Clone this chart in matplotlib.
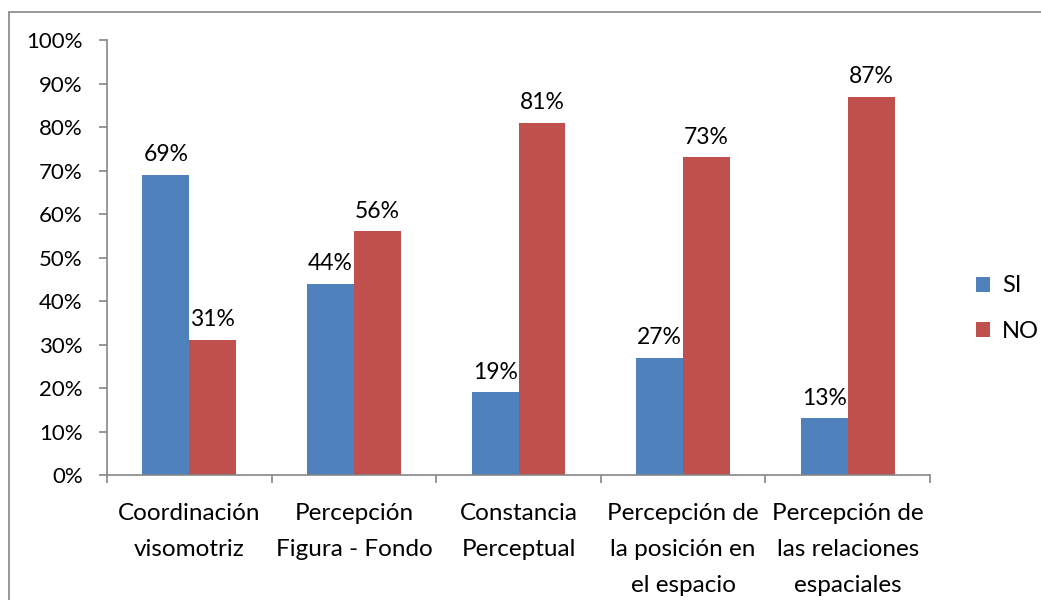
import matplotlib.pyplot as plt
import matplotlib.patches as patches
import numpy as np

categories = ["Coordinación\nvisomotriz", "Percepción\nFigura - Fondo", "Constancia\nPerceptual",
              "Percepción de\nla posición en\nel espacio", "Percepción de\nlas relaciones\nespaciales"]
si = [69, 44, 19, 27, 13]
no = [31, 56, 81, 73, 87]
series = ["SI", "NO"]

plt.rcParams['font.family'] = ['Lato', 'DejaVu Sans']

fig = plt.figure(figsize=(10.41, 6.0), dpi=100)
ax = fig.add_axes([0.1028, 0.2083, 0.7906, 0.725])

x = np.arange(len(categories))
w = 0.285
b1 = ax.bar(x - w / 2, si, w, color="#4F81BD", label=series[0])
b2 = ax.bar(x + w / 2, no, w, color="#C0504D", label=series[1])

for bars, vals in ((b1, si), (b2, no)):
    for r, v in zip(bars, vals):
        ax.annotate(f"{v}%", (r.get_x() + r.get_width() / 2, v), xytext=(0, 7),
                    textcoords="offset points", ha="center", va="bottom", fontsize=16.5)

ax.set_xlim(-0.5, len(categories) - 0.5)
ax.set_ylim(0, 100)
ax.set_yticks(range(0, 101, 10))
ax.set_yticklabels([f"{t}%" for t in range(0, 101, 10)], fontsize=16)
ax.set_xticks(x)
ax.set_xticklabels(categories, fontsize=17.5, linespacing=1.9)
ax.set_xticks(np.arange(-0.5, len(categories)), minor=True)
ax.tick_params(axis="x", which="major", length=0, pad=20)
ax.tick_params(axis="x", which="minor", length=6, color="#868686", width=1.2)
ax.tick_params(axis="y", length=6, color="#868686", width=1.2, pad=11.5)

for s in ("top", "right"):
    ax.spines[s].set_visible(False)
for s in ("left", "bottom"):
    ax.spines[s].set_color("#868686")
    ax.spines[s].set_linewidth(1.2)

ax.legend(loc="center left", bbox_to_anchor=(1.03, 0.382), frameon=False, fontsize=17,
          handlelength=0.6, handleheight=0.6, handletextpad=0.5, labelspacing=1.05)

fig.patches.append(patches.Rectangle((9 / 1041, -0.05), 1.1, 1 - 12 / 600 + 0.05,
                                     transform=fig.transFigure, fill=False,
                                     edgecolor="#868686", linewidth=1.2))

fig.savefig("out.png", dpi=100)
